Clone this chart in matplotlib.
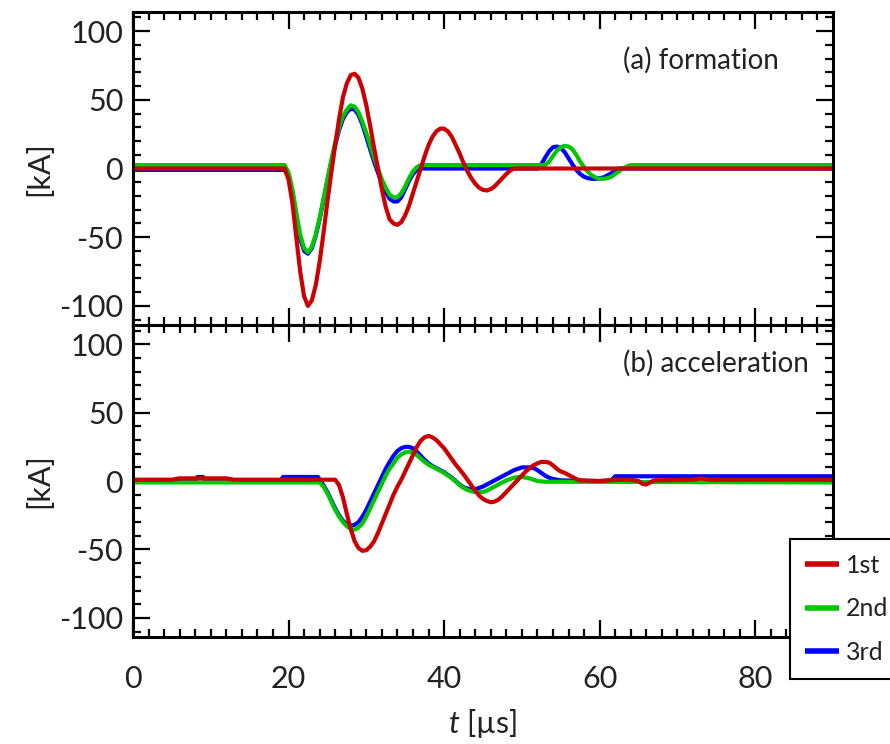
import matplotlib
matplotlib.use('Agg')
import matplotlib.pyplot as plt
from matplotlib.ticker import MultipleLocator

plt.rcParams['font.family'] = ['Lato', 'DejaVu Sans']
plt.rcParams['mathtext.fontset'] = 'custom'
plt.rcParams['mathtext.it'] = 'Lato:italic'
plt.rcParams['mathtext.rm'] = 'Lato'
plt.rcParams['axes.unicode_minus'] = False

# ---- (a) formation coil currents [kA] vs time [us] ----
t_form_1 = [0, 19.5, 20, 20.5, 21, 21.5, 22, 22.5, 23, 23.5, 24, 24.5, 25, 25.5, 26, 26.5,
            27, 27.5, 28, 28.5, 29, 29.5, 30, 30.5, 31, 31.5, 32, 32.5, 33, 33.5, 34, 34.5,
            35, 35.5, 36, 36.5, 37, 37.5, 38, 38.5, 39, 39.5, 40, 40.5, 41, 41.5, 42, 42.5,
            43, 43.5, 44, 44.5, 45, 45.5, 46, 46.5, 47, 47.5, 48, 48.5, 49, 90]
i_form_1 = [0, 0, -8, -25, -50, -75, -93, -100, -96, -85, -68, -47, -24, -3, 17, 36,
            52, 62, 68, 69, 66, 58, 46, 31, 15, 0, -15, -28, -37, -40, -41, -39,
            -34, -27, -18, -9, 0, 9, 17, 23, 27, 29, 29, 27, 23, 17, 11, 4,
            -2, -7, -11, -14, -15.5, -16, -15, -13, -10, -7, -4, -1.5, 0, 0]

t_form_2 = [0, 19.5, 20, 20.5, 21, 21.5, 22, 22.5, 23, 23.5, 24, 24.5, 25, 25.5, 26, 26.5,
            27, 27.5, 28, 28.5, 29, 29.5, 30, 30.5, 31, 31.5, 32, 32.5, 33, 33.5, 34, 34.5,
            35, 35.5, 36, 36.5, 37, 53, 53.5, 54, 54.5, 55, 55.5, 56, 56.5, 57, 57.5, 58,
            58.5, 59, 59.5, 60, 60.5, 61, 61.5, 62, 62.5, 63, 63.5, 64, 90]
i_form_2 = [2.5, 2.5, -3, -15, -32, -48, -58, -61, -57, -48, -36, -22, -8, 6, 19, 30,
            38, 43, 46, 45, 41, 34, 26, 17, 8, 0, -8, -14, -19, -21, -21, -18,
            -13, -7, -2, 1, 2.5, 2.5, 5, 9, 13, 15.5, 16.5, 16, 14, 10, 5, 1,
            -2.5, -5, -6.5, -7.5, -7.5, -7, -6, -4, -2, 0, 1.5, 2.5, 2.5]

t_form_3 = [0, 19.5, 20, 20.5, 21, 21.5, 22, 22.5, 23, 23.5, 24, 24.5, 25, 25.5, 26, 26.5,
            27, 27.5, 28, 28.5, 29, 29.5, 30, 30.5, 31, 31.5, 32, 32.5, 33, 33.5, 34, 34.5,
            35, 35.5, 36, 36.5, 37, 52, 52.5, 53, 53.5, 54, 54.5, 55, 55.5, 56, 56.5, 57,
            57.5, 58, 58.5, 59, 59.5, 60, 60.5, 61, 61.5, 62, 62.5, 90]
i_form_3 = [-1, -1, -6, -18, -35, -51, -60, -62, -58, -49, -37, -23, -9, 5, 17, 28,
            36, 41, 43.5, 43, 39, 32, 23, 14, 5, -3, -11, -17, -22, -24, -24, -21,
            -15, -9, -4, -1, 0, 0, 3, 8, 12.5, 15.5, 16, 15, 12, 7.5, 3, -1,
            -4, -6, -7, -7.5, -7.5, -7, -6.5, -5, -3.5, -1.5, 0, 0]

# ---- (b) acceleration coil currents ----
t_acc_1 = [0, 5, 6, 12, 13, 26, 26.5, 27, 27.5, 28, 28.5, 29, 29.5, 30, 30.5, 31, 31.5,
           32, 32.5, 33, 33.5, 34, 34.5, 35, 35.5, 36, 36.5, 37, 37.5, 38, 38.5, 39, 39.5,
           40, 40.5, 41, 41.5, 42, 42.5, 43, 43.5, 44, 44.5, 45, 45.5, 46, 46.5, 47, 47.5,
           48, 48.5, 49, 49.5, 50, 50.5, 51, 51.5, 52, 52.5, 53, 53.5, 54, 54.5, 55, 55.5,
           56, 56.5, 57, 57.5, 60, 62, 64, 65, 65.5, 66, 66.5, 67, 72, 73, 74, 90]
i_acc_1 = [1, 1, 2, 2, 1, 1, -3, -12, -24, -35, -44, -49, -51, -50.5, -48, -44, -38,
           -31, -24, -17, -10, -4, 1, 7, 13, 19, 25, 29.5, 32, 33, 32, 30, 27,
           24, 20, 16, 12, 8.5, 5, 1, -3, -7, -10.5, -13, -14.5, -15.5, -15, -13.5, -11,
           -8, -5, -2, 1, 4, 7, 9.5, 11.5, 13, 14, 14, 13.5, 11.5, 9, 7, 6,
           4.5, 3, 1.5, 0.5, 0, 1, 1, 0, -2, -2.5, -1, 0.5, 1, 2, 1, 1]

t_acc_2 = [0, 24, 24.5, 25, 25.5, 26, 26.5, 27, 27.5, 28, 28.5, 29, 29.5, 30, 30.5, 31,
           31.5, 32, 32.5, 33, 33.5, 34, 34.5, 35, 35.5, 36, 36.5, 37, 37.5, 38, 38.5, 39,
           39.5, 40, 40.5, 41, 41.5, 42, 42.5, 43, 43.5, 44, 44.5, 45, 45.5, 46, 46.5, 47,
           47.5, 48, 48.5, 49, 49.5, 50, 51, 52, 53, 90]
i_acc_2 = [-1, -1, -4, -9, -15, -21, -26, -30, -33, -35, -35.5, -34, -31, -26, -20, -14,
           -8, -2, 4, 9, 13, 17, 19.5, 21, 21.5, 21, 19, 16.5, 14, 12, 10.5, 9,
           7.5, 6, 4, 2, -0.5, -3, -5, -6.5, -7.5, -8, -8, -8, -7, -5.5, -4, -2.5,
           -1, 0.5, 1.5, 2.5, 3, 3, 2, 0, -0.5, -1]

t_acc_3 = [0, 8, 8.3, 9, 9.3, 19, 19.3, 23.8, 24, 24.5, 25, 25.5, 26, 26.5, 27, 27.5, 28,
           28.5, 29, 29.5, 30, 30.5, 31, 31.5, 32, 32.5, 33, 33.5, 34, 34.5, 35, 35.5, 36,
           36.5, 37, 37.5, 38, 38.5, 39, 39.5, 40, 40.5, 41, 41.5, 42, 42.5, 43, 43.5, 44,
           44.5, 45, 45.5, 46, 46.5, 47, 47.5, 48, 48.5, 49, 49.5, 50, 50.5, 51, 51.5, 52,
           52.5, 53, 53.5, 54, 55, 60, 61.5, 62, 90]
i_acc_3 = [0.5, 0.5, 3, 3, 0.5, 0.5, 3, 3, 1, -3, -8, -14, -20, -25, -29, -31.5, -32.5,
           -32, -30, -26, -21, -15, -9, -3, 3, 9, 14, 18.5, 22, 24, 25, 25, 24,
           21.5, 18.5, 15.5, 13, 11, 9.5, 8, 6.5, 4.5, 2.5, 0, -2.5, -4.5, -5.5, -6, -6,
           -5, -4, -2.5, -1, 0.5, 2, 3.5, 5, 6.5, 8, 9, 10, 10, 10, 9.5, 8,
           6, 4, 2.5, 1.5, 0.5, 0, 0.5, 3.5, 3.5]

labels = ['1st', '2nd', '3rd']
colors = ['#CC0000', '#00C800', '#0000FF']
panel_titles = ['(a) formation', '(b) acceleration']

fig = plt.figure(figsize=(8.9, 7.44), dpi=100)
ax_top = fig.add_axes([0.1494, 0.563, 0.7865, 0.421])
ax_bot = fig.add_axes([0.1494, 0.1438, 0.7865, 0.4192], sharex=ax_top)

text_color = '#222222'
series = {
    ax_top: [(t_form_1, i_form_1), (t_form_2, i_form_2), (t_form_3, i_form_3)],
    ax_bot: [(t_acc_1, i_acc_1), (t_acc_2, i_acc_2), (t_acc_3, i_acc_3)],
}

for ax, title in zip([ax_top, ax_bot], panel_titles):
    data = series[ax]
    # draw 3rd first so 1st ends up on top
    for k in [2, 1, 0]:
        t, i = data[k]
        ax.plot(t, i, color=colors[k], lw=3, label=labels[k], solid_capstyle='butt')
    ax.set_xlim(0, 90)
    ax.set_ylim(-114, 114)
    ax.xaxis.set_major_locator(MultipleLocator(20))
    ax.xaxis.set_minor_locator(MultipleLocator(2))
    ax.yaxis.set_major_locator(MultipleLocator(50))
    ax.yaxis.set_minor_locator(MultipleLocator(10))
    ax.tick_params(which='both', direction='in', top=True, right=True,
                   width=1.6, colors='black', labelcolor=text_color, labelsize=22)
    ax.tick_params(which='major', length=12)
    ax.tick_params(which='minor', length=6)
    ax.tick_params(axis='y', which='major', pad=7)
    ax.tick_params(axis='x', which='major', pad=20)
    for sp in ax.spines.values():
        sp.set_linewidth(2.2)
    ax.set_ylabel('[kA]', fontsize=22, color=text_color, labelpad=4)
    ax.text(0.70, 0.847 if ax is ax_top else 0.878, title, transform=ax.transAxes,
            fontsize=20, color=text_color, ha='left', va='center')

ax_top.tick_params(labelbottom=False)
ax_bot.set_xlabel(r'$t$ [µs]', fontsize=22, color=text_color, labelpad=10)

# legend (sits over the lower right corner and runs to the figure edge)
handles, labs = ax_bot.get_legend_handles_labels()
order = [labs.index(l) for l in labels]
leg = fig.legend([handles[j] for j in order], labels, loc='upper left',
                 bbox_to_anchor=(790 / 890, 1 - 539 / 744), bbox_transform=fig.transFigure,
                 fontsize=18, frameon=True, fancybox=False, edgecolor='black',
                 framealpha=1, borderaxespad=0, handlelength=1.35, handletextpad=0.3,
                 labelspacing=0.82, borderpad=0.6)
leg.get_frame().set_linewidth(1.5)
for txt in leg.get_texts():
    txt.set_color(text_color)
for ln in leg.get_lines():
    ln.set_linewidth(4)

fig.savefig('out.png', dpi=100)
